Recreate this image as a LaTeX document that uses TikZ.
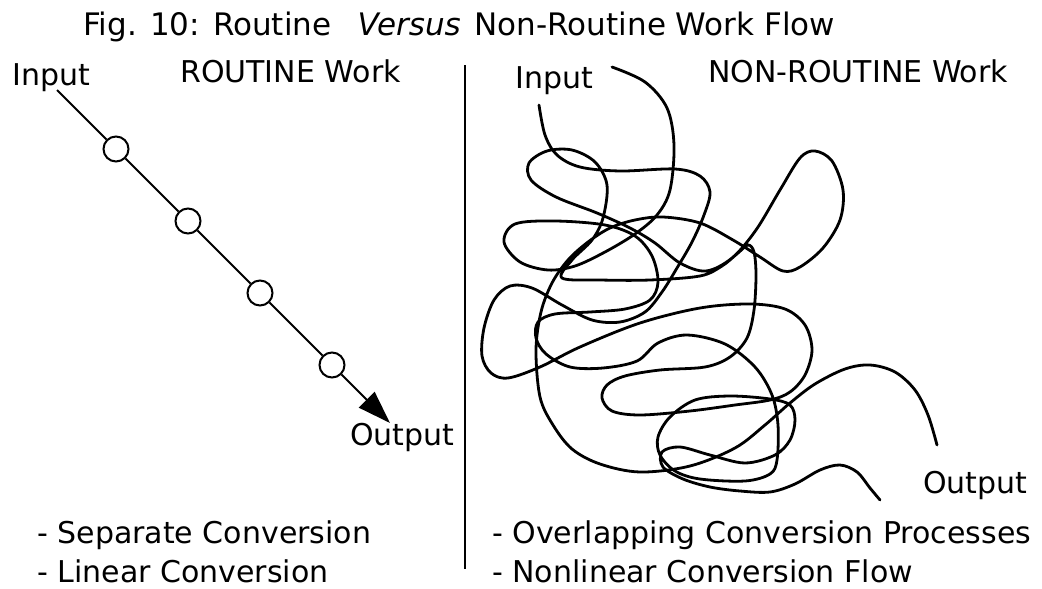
\documentclass[tikz,border=0pt]{standalone}
\usepackage{fontspec}
\setmainfont{DejaVu Sans}
\usetikzlibrary{arrows.meta}

\begin{document}
\begin{tikzpicture}[x=1pt,y=-1pt,font=\fontsize{30}{36}\selectfont]
      \tikzstyle{lbl} = [anchor=base west,inner sep=0pt]
      \tikzstyle{stage} = [circle,draw=black,line width=2pt,minimum size=25pt,inner sep=0pt]
      \tikzstyle{chain} = [line width=2pt,draw=black]
      \tikzstyle{scrib} = [line width=2.8pt,draw=black,line cap=round,line join=round]
      \useasboundingbox (0,0) rectangle (1042,589);
      \node[lbl,font=\fontsize{31}{36}\selectfont] (title) at (83,35) {Fig. 10: Routine\hspace{0.85em}\textit{Versus}\hspace{0.45em}Non-Routine Work Flow};
      \node[lbl] (inL) at (12,85) {Input};
      \node[lbl] (routine) at (180,82) {ROUTINE Work};
      \node[lbl] (inR) at (515,88) {Input};
      \node[lbl] (nonroutine) at (708,82) {NON-ROUTINE Work};
      \node[lbl] (outL) at (350,445) {Output};
      \node[lbl] (outR) at (923,493) {Output};
      \node[lbl] (sep) at (37,543) {- Separate Conversion};
      \node[lbl] (lin) at (37,582) {- Linear Conversion};
      \node[lbl] (ovl) at (492,543) {- Overlapping Conversion Processes};
      \node[lbl] (nonlin) at (492,582) {- Nonlinear Conversion Flow};
      \coordinate (divtop) at (465,65);
      \coordinate (divbot) at (465,569);
      \draw[line width=2pt] (divtop) -- (divbot);
      \coordinate (start) at (57,90);
      \coordinate (tip) at (390,423);
      \foreach \i/\x/\y in {1/116/149, 2/188/221, 3/260/293, 4/332/365}
        \node[stage] (c\i) at (\x,\y) {};
      \draw[chain] (start) -- (c1) -- (c2) -- (c3) -- (c4);
      \draw[chain,-{Triangle[length=33pt,width=22pt]}] (c4) -- (tip);
      \draw[scrib] plot[smooth,tension=0.55] coordinates {
        (539,105) (545,135) (557,155) (580,167) (620,171) (675,169) (700,176) (710,192)
        (704,215) (692,242) (677,268) (662,292) (645,312) (620,322) (592,320) (562,305)
        (532,288) (510,286) (494,300) (484,328) (482,356) (491,373) (508,378) (540,367)
        (580,347) (640,323) (700,308) (750,304) (785,309) (805,325) (812,350) (805,375)
        (790,392) (770,400) (735,405) (690,411) (640,415) (612,411) (602,398) (607,385)
        (625,376) (660,370) (705,367) (730,357) (747,338) (754,310) (756,275) (754,252)
        (748,245) (738,253) (722,266) (700,276) (650,280) (600,280) (562,278) (572,260)
        (592,240) (603,218) (607,185) (595,162) (572,150) (547,151) (529,163) (531,180)
        (556,197) (597,213) (630,228) (655,243) (680,263) (706,271) (732,258) (756,230)
        (780,190) (800,158) (815,151) (832,161) (843,190) (840,220) (823,248) (800,267)
        (783,271) (760,257) (733,240) (700,223) (663,217) (635,220) (610,228) (588,242)
        (568,260) (552,283) (541,312) (536,350) (540,397) (553,425) (572,449) (600,464)
        (640,472) (690,466) (735,448) (765,425) (790,403) (815,384) (845,369) (870,365)
        (895,372) (915,390) (928,415) (937,445)};
      \draw[scrib] plot[smooth,tension=0.55] coordinates {
        (612,67) (645,82) (667,108) (674,145) (670,190) (657,215) (635,234) (605,252)
        (575,266) (548,270) (520,262) (504,242) (515,224) (555,221) (605,225) (635,236)
        (652,256) (658,282) (650,300) (625,309) (590,312) (555,314) (538,322) (536,338)
        (546,354) (570,367) (603,368) (637,361) (658,343) (687,335) (725,344) (755,367)
        (772,395) (778,425) (777,460) (770,474) (745,481) (700,479) (675,471) (660,455)
        (658,437) (670,417) (695,400) (730,396) (770,399) (790,405) (795,420) (790,440)
        (775,455) (745,463) (710,455) (680,447) (662,452) (663,467) (683,479) (710,487)
        (740,491) (770,492) (795,484) (820,470) (840,465) (857,472) (870,488) (880,500)};
    \end{tikzpicture}
\end{document}
